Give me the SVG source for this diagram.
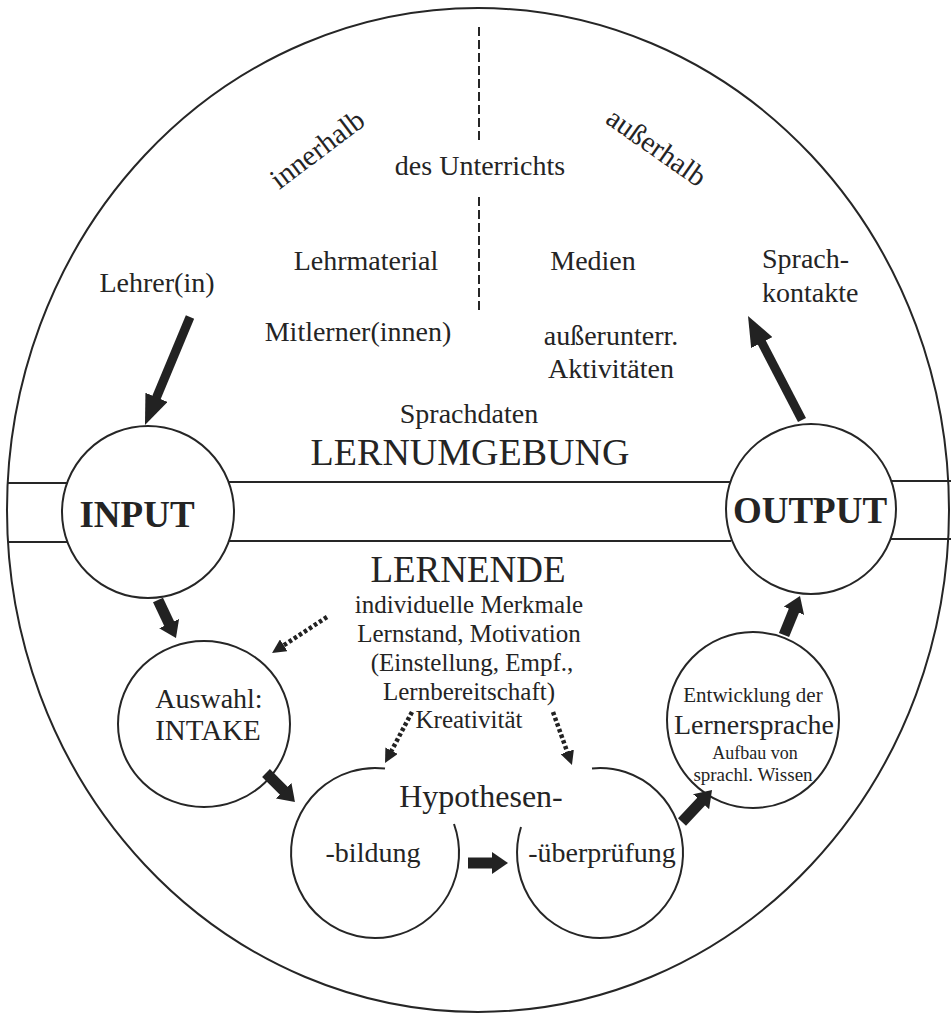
<svg xmlns="http://www.w3.org/2000/svg" width="951" height="1014" viewBox="0 0 951 1014">
<style>
  .ln { fill: none; stroke: #262626; stroke-width: 2; }
  .t { font-family: "Liberation Serif", "Times New Roman", serif; fill: #242424; text-anchor: middle; }
  .tl { font-family: "Liberation Serif", "Times New Roman", serif; fill: #242424; text-anchor: start; }
  .f28 { font-size: 28px; }
  .big { font-size: 38px; }
  .bold { font-weight: bold; font-size: 37px; }
  .thickL { stroke: #222; stroke-width: 9; fill: none; marker-end: url(#headL); }
  .thickS { stroke: #222; stroke-width: 11; fill: none; marker-end: url(#headS); }
  .dot { stroke: #222; stroke-width: 4.5; stroke-dasharray: 3.5 2.5; fill: none; marker-end: url(#headD); }
  .dash { stroke: #262626; stroke-width: 2; stroke-dasharray: 9 4; fill: none; }
</style>
<defs>
  <marker id="headL" markerUnits="userSpaceOnUse" viewBox="0 0 30 24" markerWidth="30" markerHeight="24" refX="12" refY="12" orient="auto">
    <path d="M0,0 L30,12 L0,24 z" fill="#222"/>
  </marker>
  <marker id="headS" markerUnits="userSpaceOnUse" viewBox="0 0 16 22" markerWidth="16" markerHeight="22" refX="6" refY="11" orient="auto">
    <path d="M0,0 L16,11 L0,22 z" fill="#222"/>
  </marker>
  <marker id="headD" markerUnits="userSpaceOnUse" viewBox="0 0 14 14" markerWidth="14" markerHeight="14" refX="4" refY="7" orient="auto">
    <path d="M0,0 L14,7 L0,14 z" fill="#222"/>
  </marker>
</defs>
<rect width="951" height="1014" fill="#ffffff"/>

<g id="lernumgebung">
  <ellipse class="ln" cx="478" cy="510" rx="471" ry="502"/>
  <path class="dash" d="M479,27 V142 M479,197 V314"/>
  <text class="t" style="font-size:29px" transform="translate(323,157) rotate(-37)">innerhalb</text>
  <text class="t" style="font-size:29px" transform="translate(651,155) rotate(35)">außerhalb</text>
  <text class="t f28" x="480" y="175">des Unterrichts</text>
  <text class="t big" x="470" y="465">LERNUMGEBUNG</text>
  <text class="t f28" x="469" y="423">Sprachdaten</text>
</g>

<g id="band">
  <path class="ln" d="M8,483 H68 M229,482 H731 M891,481 H951 M8,542 H68 M229,541 H731 M891,539 H951"/>
</g>

<g id="lehrer"><text class="t f28" x="157" y="292">Lehrer(in)</text></g>
<g id="lehrmaterial"><text class="t f28" x="366" y="270">Lehrmaterial</text></g>
<g id="mitlerner"><text class="t f28" x="358" y="341">Mitlerner(innen)</text></g>
<g id="medien"><text class="t f28" x="593" y="270">Medien</text></g>
<g id="ausserunterr">
  <text class="t f28" x="611" y="345">außerunterr.</text>
  <text class="t f28" x="611" y="378">Aktivitäten</text>
</g>
<g id="sprachkontakte">
  <text class="tl f28" x="762" y="268">Sprach-</text>
  <text class="tl f28" x="762" y="302">kontakte</text>
</g>

<g id="input">
  <circle class="ln" cx="148" cy="512" r="86" fill="#fff"/>
  <text class="t bold" x="137" y="527">INPUT</text>
</g>

<g id="output">
  <circle class="ln" cx="811" cy="509" r="85" fill="#fff"/>
  <text class="t bold" x="810" y="523">OUTPUT</text>
</g>

<g id="lernende">
  <text class="t" style="font-size:37px" x="468" y="582">LERNENDE</text>
  <text class="t" style="font-size:25px" x="469" y="613">individuelle Merkmale</text>
  <text class="t" style="font-size:25px" x="469" y="642">Lernstand, Motivation</text>
  <text class="t" style="font-size:25px" x="472" y="671">(Einstellung, Empf.,</text>
  <text class="t" style="font-size:25px" x="469" y="700">Lernbereitschaft)</text>
  <text class="t" style="font-size:25px" x="469" y="728">Kreativität</text>
</g>

<g id="intake">
  <ellipse class="ln" cx="204" cy="724" rx="86" ry="83"/>
  <text class="t f28" x="209" y="708">Auswahl:</text>
  <text class="t" style="font-size:29px" x="208" y="740">INTAKE</text>
</g>

<g id="hypothesen">
  <text class="t" style="font-size:32px" x="481" y="807">Hypothesen-</text>
</g>
<g id="hyp-bildung">
  <path class="ln" d="M385,768.6 A84,85 0 1 0 454,824"/>
  <text class="t f28" x="373" y="862">-bildung</text>
</g>
<g id="hyp-ueberpruefung">
  <path class="ln" d="M592,768.4 A83,85 0 1 1 521,827"/>
  <text class="t f28" x="602" y="862">-überprüfung</text>
</g>

<g id="lernersprache">
  <ellipse class="ln" cx="753" cy="720" rx="86" ry="88"/>
  <text class="t" style="font-size:21px" x="753" y="702">Entwicklung der</text>
  <text class="t" style="font-size:28px" x="754" y="734">Lernersprache</text>
  <text class="t" style="font-size:18px" x="755" y="759">Aufbau von</text>
  <text class="t" style="font-size:19px" x="753" y="781">sprachl. Wissen</text>
</g>

<g id="connectors">
  <line class="thickL" x1="190" y1="317" x2="151.9" y2="408.4"/>
  <line class="thickL" x1="802" y1="420" x2="756.3" y2="332"/>
  <line class="thickS" x1="158" y1="600" x2="171.7" y2="629"/>
  <line class="thickS" x1="266" y1="773" x2="287.9" y2="794.9"/>
  <line class="thickS" x1="468" y1="863" x2="498" y2="863"/>
  <line class="thickS" x1="682" y1="822" x2="705.2" y2="797.3"/>
  <line class="thickS" x1="784" y1="635" x2="796.2" y2="605.2"/>
  <line class="dot" x1="327" y1="617" x2="280.4" y2="647.5"/>
  <line class="dot" x1="412" y1="712" x2="389.7" y2="754.2"/>
  <line class="dot" x1="553" y1="712" x2="568.6" y2="755.6"/>
</g>
</svg>
